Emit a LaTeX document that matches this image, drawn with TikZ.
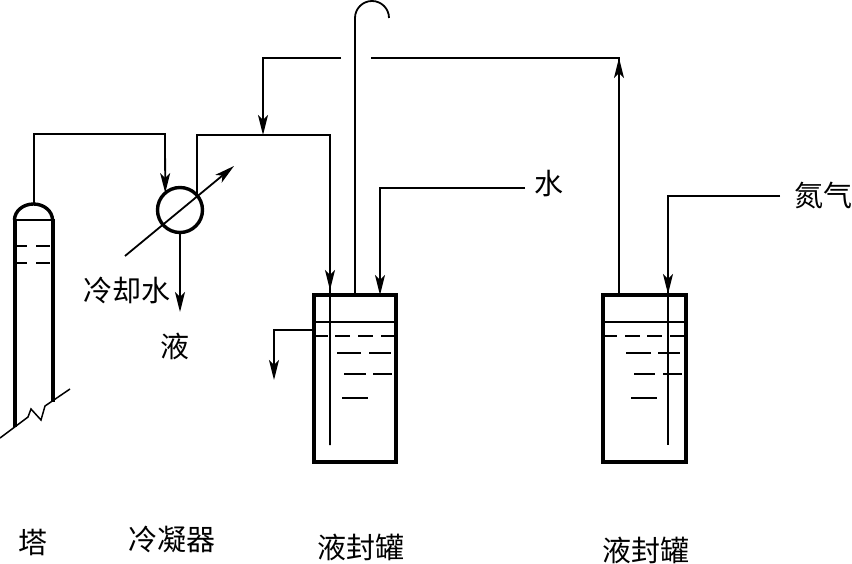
\documentclass[tikz,border=0pt]{standalone}
\usepackage{fontspec}
\newfontfamily\cjk{Noto Sans CJK SC}
\usetikzlibrary{arrows.meta}
\tikzset{
  pipe/.style={line width=1.8pt,line join=miter,black},
  flow/.style={pipe,-{Stealth[length=20pt,width=10pt,inset=5pt]}},
  thin rule/.style={line width=1.5pt,black},
  wall/.style={line width=4pt,black},
  tankbox/.style={draw,line width=4pt,minimum height=167pt,inner sep=0pt,outer sep=0pt},
  lbl/.style={font=\cjk\fontsize{29}{31}\selectfont,inner sep=0pt,text=black}
}
\begin{document}
\begin{tikzpicture}[x=1pt,y=-1pt]
\useasboundingbox (0,0) rectangle (852,564);
% nodes
\node[tankbox,minimum width=82pt] (t1) at (355,378.5) {};
\node[tankbox,minimum width=83pt] (t2) at (644.5,378.5) {};
\node[draw,circle,line width=3.4pt,minimum size=45pt,inner sep=0pt,outer sep=0pt] (cond) at (180,210) {};
\node[lbl] (lta) at (33,543) {塔};
\node[lbl] (lcond) at (172,539) {冷凝器};
\node[lbl] (lt1) at (361,547) {液封罐};
\node[lbl] (lt2) at (646,550) {液封罐};
\node[lbl] (lwater) at (549,184) {水};
\node[lbl] (ln2) at (823,195) {氮气};
\node[lbl] (lcool) at (127,290) {冷却水};
\node[lbl] (lliq) at (175,346) {液};
% column
\coordinate (top) at (34,204);
\draw[wall] (14.5,219) -- (14.5,427);
\draw[wall] (52.5,219) -- (52.5,402);
\draw[line width=2.8pt] (14.5,220) -- (52.5,220);
\draw[line width=3.4pt] (14.5,220) arc[start angle=180,end angle=360,x radius=19,y radius=16];
\draw[thin rule] (16,246) -- (27,246) (36,246) -- (50,246);
\draw[thin rule] (16,263) -- (27,263) (36,263) -- (50,263);
\draw[thin rule] (0,438) -- (28,417) -- (31,409) -- (41,420) -- (45,406) -- (70,389);
% condenser
\coordinate (cin) at (125,256);
\coordinate (cout) at (234,166);
\draw[flow] (cin) -- (cout);
\coordinate (c1) at (34,134);
\coordinate (c2) at (165,134);
\draw[flow] (top) -- (c1) -- (c2) -- (cond.131);
\coordinate (o1) at (197,135);
\coordinate (o2) at (330,135);
\coordinate (o3) at (330,290);
\coordinate (o4) at (330,445);
\draw[pipe] (cond.41.5) -- (o1) -- (o2) -- (o4);
\draw[flow] (o2) -- (o3);
\coordinate (liq) at (180,312);
\draw[flow] (cond.south) -- (liq);
% branch
\coordinate (b0) at (341,58);
\coordinate (b1) at (263,58);
\coordinate (b2) at (263,135);
\draw[flow] (b0) -- (b1) -- (b2);
% goose-neck vent
\coordinate (v0) at (355,295);
\coordinate (v1) at (355,18);
\draw[pipe] (v0) -- (v1) arc[start angle=180,end angle=360,radius=17];
% cross link
\coordinate (r0) at (371,58);
\coordinate (r1) at (619,58);
\coordinate (r2) at (619,295);
\draw[pipe] (r0) -- (r1) -- (r2);
\draw[flow] (r2) -- (r1);
% water
\coordinate (w0) at (525,188);
\coordinate (w1) at (380,188);
\coordinate (w2) at (380,295);
\draw[flow] (w0) -- (w1) -- (w2);
% nitrogen
\coordinate (n0) at (780,196);
\coordinate (n1) at (668,196);
\coordinate (n2) at (668,294);
\coordinate (n3) at (668,445);
\draw[pipe] (n0) -- (n1) -- (n3);
\draw[flow] (n1) -- (n2);
% overflow
\coordinate (x0) at (314,330);
\coordinate (x1) at (274,330);
\coordinate (x2) at (274,380);
\draw[flow] (x0) -- (x1) -- (x2);
% tank 1 liquid
\draw[thin rule] (315,322) -- (396,322);
\draw[thin rule] (315,336) -- (328,336) (335,336) -- (350,336) (358,336) -- (373,336) (381,336) -- (396,336);
\draw[thin rule] (337,353) -- (361,353) (369,353) -- (391,353);
\draw[thin rule] (344,374) -- (366,374) (373,374) -- (392,374);
\draw[thin rule] (342,398) -- (368,398);
% tank 2 liquid
\draw[thin rule] (604,322) -- (686,322);
\draw[thin rule] (605,336) -- (617,336) (625,336) -- (640,336) (647,336) -- (662,336) (670,336) -- (685,336);
\draw[thin rule] (626,353) -- (651,353) (658,353) -- (680,353);
\draw[thin rule] (634,374) -- (655,374) (663,374) -- (682,374);
\draw[thin rule] (631,398) -- (657,398);
\end{tikzpicture}
\end{document}
